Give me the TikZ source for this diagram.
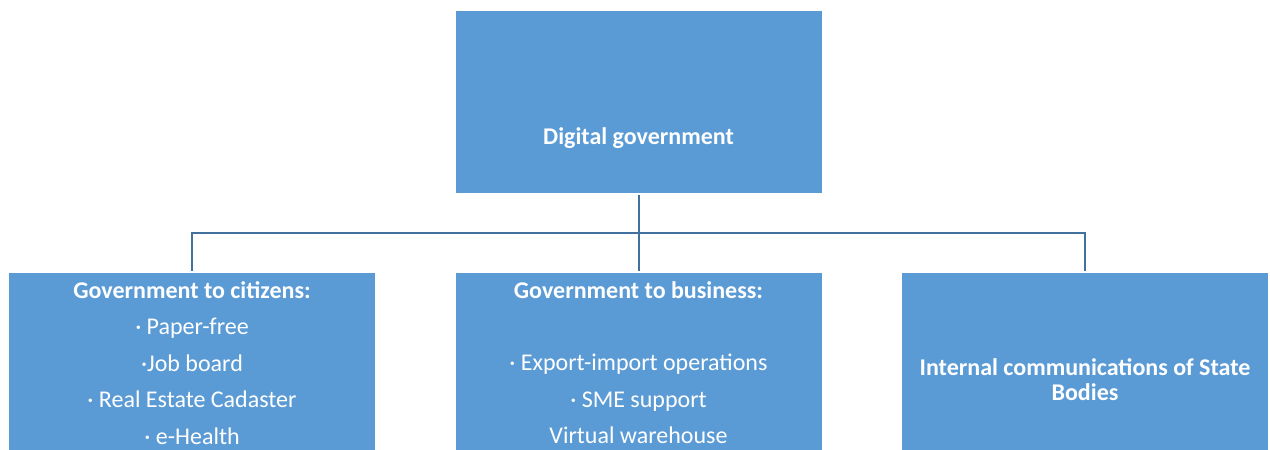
\documentclass[tikz,border=0pt]{standalone}
\usepackage{fontspec}
\setmainfont{Carlito}
\definecolor{boxblue}{HTML}{5B9BD5}
\definecolor{lineblue}{HTML}{41719C}
\tikzset{
  box/.style={rectangle, fill=boxblue, draw=none, inner sep=0pt, minimum width=366pt},
  head/.style={text=white, font=\fontsize{24}{26}\selectfont\bfseries, anchor=base, inner sep=0pt},
  item/.style={text=white, font=\fontsize{24}{26}\selectfont, anchor=base, inner sep=0pt},
  conn/.style={draw=lineblue, line width=2pt, shorten >=2pt, shorten <=2pt}
}
\begin{document}
\begin{tikzpicture}[x=1pt, y=-1pt]
\useasboundingbox (0,0) rectangle (1270,450);
%%%%%%%%%%%%%%%%%%%%%%%%%%%%%%% boxes
\node[box, minimum height=182pt](dg) at (638.5,102){};
\node[box, minimum height=180pt](g2c) at (192,363){};
\node[box, minimum height=180pt](g2b) at (638.5,363){};
\node[box, minimum height=180pt](isb) at (1085,363){};
%%%%%%%%%%%%%%%%%%%%%%%%%%%%%%% texts
\node[head](dgt) at (638.5,144){Digital government};
\node[head](g2ct) at (192,298){Government to citizens:};
\node[item](g2c1) at (192,334.5){· Paper-free};
\node[item](g2c2) at (192,371){·Job board};
\node[item](g2c3) at (192,407.5){· Real Estate Cadaster};
\node[item](g2c4) at (192,444){· e-Health};
\node[head](g2bt) at (638.5,298){Government to business:};
\node[item](g2b1) at (638.5,370.5){· Export-import operations};
\node[item](g2b2) at (638.5,407){· SME support};
\node[item](g2b3) at (638.5,443){Virtual warehouse};
\node[head](isbt1) at (1085,375){Internal communications of State};
\node[head](isbt2) at (1085,400.5){Bodies};
%%%%%%%%%%%%%%%%%%%%%%%%%%%%%%% connectors
\coordinate(bus) at (638.5,233);
\draw[conn] (dg.south) -- (g2b.north);
\draw[conn] (g2c.north) |- (bus) -| (isb.north);
\end{tikzpicture}
\end{document}
